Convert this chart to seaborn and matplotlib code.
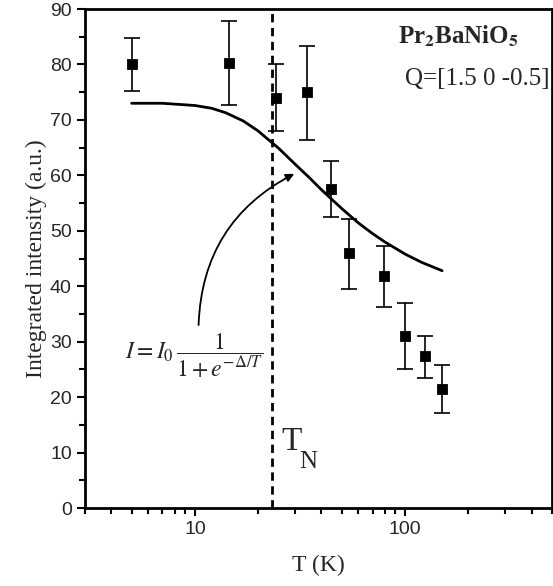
import numpy as np
import pandas as pd
import seaborn as sns
import matplotlib.pyplot as plt
from matplotlib.ticker import LogLocator, NullFormatter

temp = [5, 14.5, 24.3, 34, 44.5, 54, 79, 100, 124, 150]
intensity = [80.0, 80.2, 74.0, 75.0, 57.5, 46.0, 41.8, 31.0, 27.4, 21.5]
err_lo = [4.7, 7.6, 6.0, 8.7, 5.0, 6.5, 5.5, 6.0, 4.0, 4.3]
err_hi = [4.7, 7.6, 6.0, 8.3, 5.1, 6.2, 5.5, 6.0, 3.6, 4.3]

# fitted curve
fit_t = [5, 7, 10, 12, 14, 17, 20, 25, 30, 35, 40, 50, 60, 70, 80, 100, 120, 150]
fit_i = [73.0, 73.0, 72.6, 72.1, 71.3, 69.8, 68.0, 64.9, 62.0, 59.6, 57.4, 54.0, 51.4, 49.5, 48.0, 45.8, 44.3, 42.8]

t_neel = 23.3

sns.set_style("ticks")
plt.rcParams['mathtext.fontset'] = 'stix'

fig = plt.figure(figsize=(5.53, 5.86), dpi=100)
ax = fig.add_axes([0.1537, 0.1331, 0.8445, 0.8515])

df = pd.DataFrame({"T": temp, "I": intensity})
fit = pd.DataFrame({"T": fit_t, "I": fit_i})

ax.errorbar(temp, intensity, yerr=[err_lo, err_hi], fmt='none', ecolor='black',
            elinewidth=1.2, capsize=6, capthick=1.2, zorder=2)
sns.scatterplot(data=df, x="T", y="I", marker='s', s=55, color='black',
                edgecolor='black', ax=ax, zorder=3)
sns.lineplot(data=fit, x="T", y="I", color='black', lw=2, ax=ax)
ax.axvline(t_neel, color='black', ls=(0, (3, 2)), lw=2)

ax.set_xscale('log')
ax.set_xlim(3, 500)
ax.set_ylim(0, 90)
ax.set_yticks(range(0, 91, 10))
ax.set_yticks(range(5, 90, 10), minor=True)
ax.set_xticks([10, 100])
ax.set_xticklabels(['10', '100'])
ax.xaxis.set_minor_locator(LogLocator(base=10, subs=range(2, 10), numticks=20))
ax.xaxis.set_minor_formatter(NullFormatter())

for sp in ax.spines.values():
    sp.set_linewidth(2)
    sp.set_color('black')
ax.tick_params(which='major', length=6, width=1.5, labelsize=14, color='black')
ax.tick_params(which='minor', length=4, width=1.5, color='black')
for lab in ax.get_xticklabels() + ax.get_yticklabels():
    lab.set_family('Liberation Sans')

ax.set_xlabel('T (K)', family='Liberation Serif', fontsize=17, labelpad=12)
ax.set_ylabel('Integrated intensity (a.u.)', family='Liberation Serif', fontsize=17, labelpad=2)

ax.text(0.67, 0.945, r'Pr$_\mathbf{2}$BaNiO$_\mathbf{5}$', transform=ax.transAxes,
        ha='left', va='center', family='Liberation Serif', fontsize=18, fontweight='bold')
ax.text(0.995, 0.86, 'Q=[1.5 0 -0.5]', transform=ax.transAxes,
        ha='right', va='center', family='Liberation Serif', fontsize=18)

ax.text(9.9, 27.5, r'$I = I_0\,\dfrac{1}{1+e^{-\Delta/T}}$', ha='center', va='center', fontsize=17)
ax.text(25.8, 12, 'T', ha='left', va='center', family='Liberation Serif', fontsize=24)
ax.text(31.3, 8.3, 'N', ha='left', va='center', family='Liberation Serif', fontsize=18)

ax.annotate('', xy=(30.5, 60.5), xytext=(10.4, 32.5),
            arrowprops=dict(arrowstyle='-|>', color='black', lw=1.3,
                            connectionstyle='arc3,rad=-0.3', mutation_scale=12))

fig.savefig('out.png', dpi=100)
